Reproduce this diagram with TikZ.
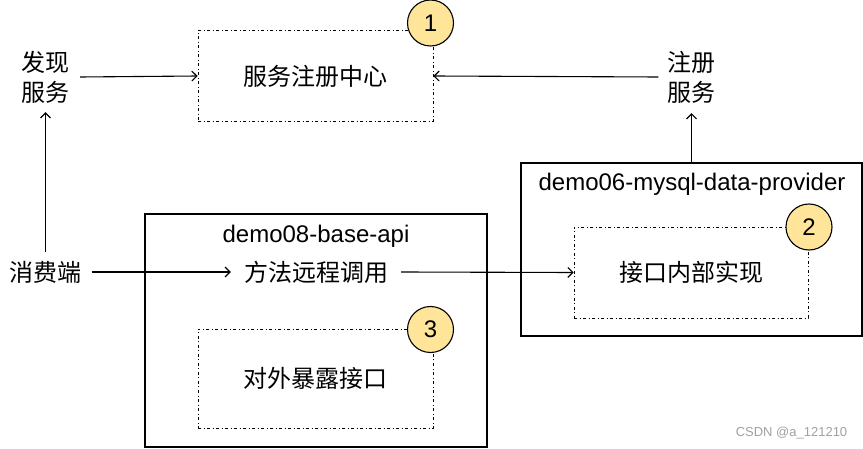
\documentclass[tikz,border=0pt]{standalone}
\usepackage{fontspec}
\setmainfont{Liberation Sans}
\newfontfamily\cjk{Noto Sans CJK SC}
\usetikzlibrary{arrows.meta}
\definecolor{numfill}{HTML}{FFE599}
\definecolor{wmgray}{HTML}{A0A0A0}
\begin{document}
\begin{tikzpicture}[x=1pt,y=-1pt,
  arr/.style={-{Straight Barb[length=5pt,width=10pt]}, line width=1.1pt},
  ddbox/.style={draw, line width=0.9pt, dash pattern=on 3pt off 2.5pt on 1pt off 2.5pt, inner sep=0pt, font=\fontsize{24}{30}\selectfont\cjk},
  solidbox/.style={draw, line width=1.1pt, inner sep=0pt},
  lbl/.style={font=\fontsize{24}{30}\selectfont\cjk, align=center, inner sep=0pt},
  numc/.style={circle, draw, line width=1.1pt, fill=numfill, minimum size=46pt, inner sep=0pt, font=\fontsize{24}{28}\selectfont},
  ttl/.style={font=\fontsize{24}{28}\selectfont, inner sep=0pt}]
\useasboundingbox (0,0) rectangle (863,449);

% containers
\node[solidbox, minimum width=341pt, minimum height=173pt] (prov) at (691.5,249.5) {};
\node[solidbox, minimum width=342pt, minimum height=233pt] (api) at (316,330.5) {};
\node[ttl] (provt) at (692,184) {demo06-mysql-data-provider};
\node[ttl] (apit) at (316,236) {demo08-base-api};

% dash-dot boxes
\node[ddbox, minimum width=235pt, minimum height=91pt] (reg) at (315.5,76) {服务注册中心};
\node[ddbox, minimum width=234pt, minimum height=91pt] (impl) at (691,272.5) {接口内部实现};
\node[ddbox, minimum width=235pt, minimum height=99pt] (expo) at (315.5,378.5) {对外暴露接口};

% numbered circles
\node[numc] (n1) at (430.5,23) {1};
\node[numc] (n2) at (809,227) {2};
\node[numc] (n3) at (430.5,329.5) {3};

% plain labels
\node[lbl, minimum width=69pt, minimum height=70pt] (disc) at (45.5,77) {发现\\服务};
\node[lbl, minimum width=66pt, minimum height=72pt] (regsvc) at (691.5,77) {注册\\服务};
\node[lbl, minimum width=92pt, minimum height=40pt] (cons) at (45.5,272) {消费端};
\node[lbl, minimum width=170pt, minimum height=30pt] (rpc) at (316,272) {方法远程调用};

% connectors
\draw[arr] (disc.east) -- (reg.west);
\draw[arr] (regsvc.west) -- (reg.east);
\draw[arr] (prov.north) -- (regsvc.south);
\draw[arr] (cons.north) -- (disc.south);
\draw[arr] (cons.east) -- (rpc.west);
\draw[arr] (rpc.east) -- (impl.west);

% watermark
\node[inner sep=0pt, font=\fontsize{13}{15}\selectfont, text=wmgray] (wm) at (791.5,433.5) {CSDN @a\_121210};
\end{tikzpicture}
\end{document}
